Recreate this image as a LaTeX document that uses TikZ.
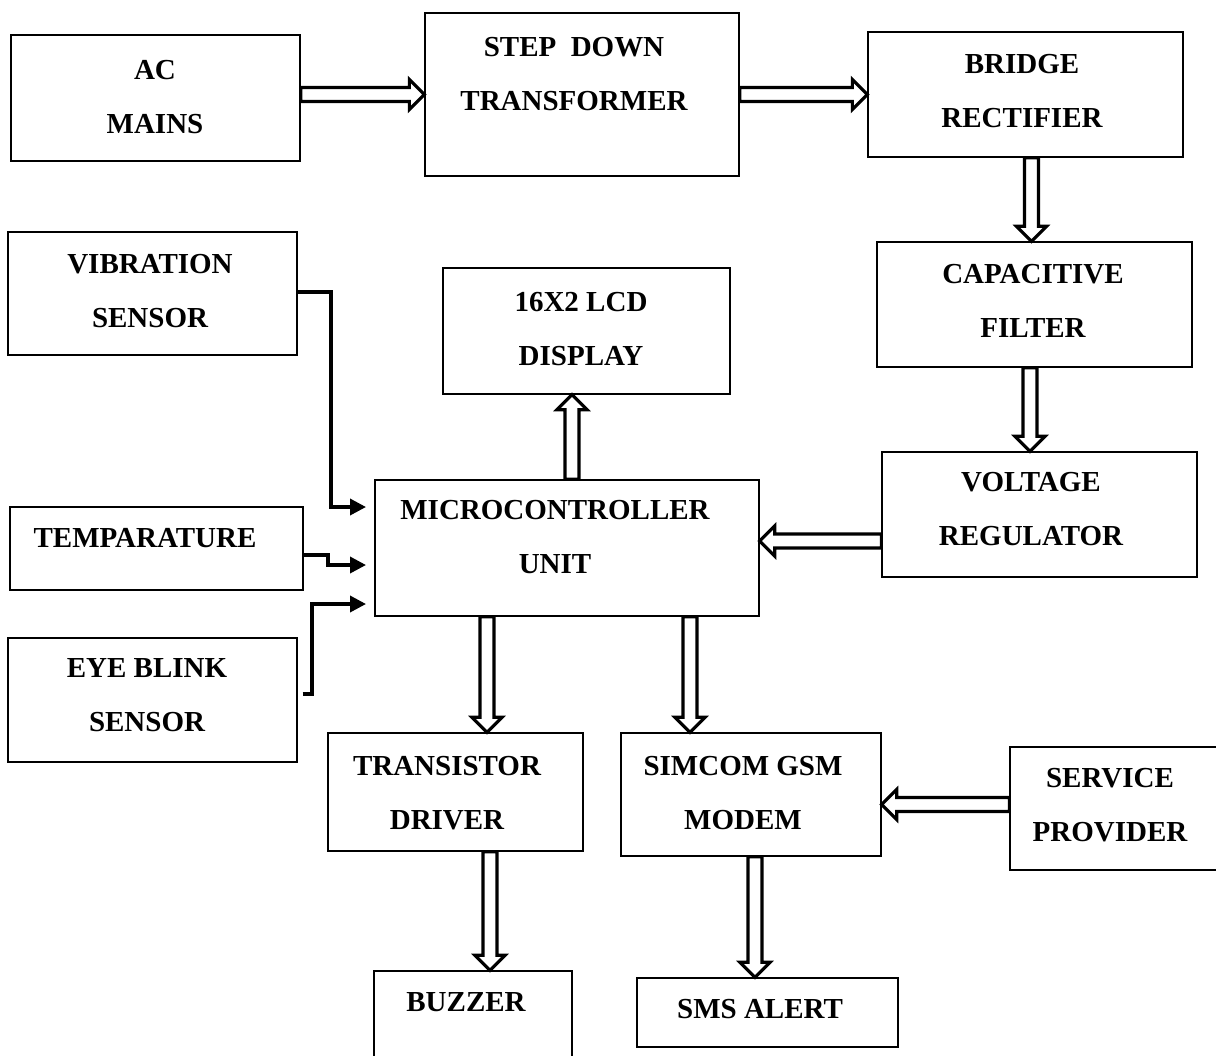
\documentclass[tikz,border=0pt]{standalone}
\usepackage{fontspec}
\setmainfont{Liberation Serif}
\usetikzlibrary{calc,arrows.meta}

\begin{document}
\begin{tikzpicture}[x=0.02cm, y=-0.02cm,
    box/.style={draw, line width=0.8pt, inner sep=0pt},
    lbl/.style={font=\bfseries\fontsize{16.5}{30.5}\selectfont, align=center, inner sep=0pt},
    wire/.style={line width=2pt, -{Triangle[length=0.32cm, width=0.32cm]}},
    hollow/.style={draw, fill=white, line width=1.8pt, line join=miter, to path={
      let \p1=(\tikztostart), \p2=(\tikztotarget), \p3=($(\p2)!0.3cm!(\p1)$) in
      ($(\p1)!0.14cm!90:(\p2)$) -- ($(\p3)!0.14cm!90:(\p2)$) -- ($(\p3)!0.3cm!90:(\p2)$) -- (\p2)
      -- ($(\p3)!0.3cm!-90:(\p2)$) -- ($(\p3)!0.14cm!-90:(\p2)$) -- ($(\p1)!0.14cm!-90:(\p2)$) -- cycle}}]
  \clip (0,0) rectangle (1216,1055);

  % blocks
  \path node (ac)  at (155.5,98)   [box, minimum width=5.78cm, minimum height=2.52cm] {}
        node (sdt) at (582,94.5)   [box, minimum width=6.28cm, minimum height=3.26cm] {}
        node (br)  at (1025.5,94.5) [box, minimum width=6.30cm, minimum height=2.50cm] {}
        node (cf)  at (1034.5,304.5) [box, minimum width=6.30cm, minimum height=2.50cm] {}
        node (vr)  at (1039.5,514.5) [box, minimum width=6.30cm, minimum height=2.50cm] {}
        node (vib) at (152.5,293.5) [box, minimum width=5.78cm, minimum height=2.46cm] {}
        node (lcd) at (586.5,331)   [box, minimum width=5.74cm, minimum height=2.52cm] {}
        node (mcu) at (567,548)     [box, minimum width=7.68cm, minimum height=2.72cm] {}
        node (tmp) at (156.5,548.5) [box, minimum width=5.86cm, minimum height=1.66cm] {}
        node (eye) at (152.5,700)   [box, minimum width=5.78cm, minimum height=2.48cm] {}
        node (tr)  at (455.5,792)   [box, minimum width=5.10cm, minimum height=2.36cm] {}
        node (gsm) at (751,794.5)   [box, minimum width=5.20cm, minimum height=2.46cm] {}
        node (sp)  at (1120,808.5)  [box, minimum width=4.40cm, minimum height=2.46cm] {}
        node (bz)  at (473,1020.5)  [box, minimum width=3.96cm, minimum height=1.98cm] {}
        node (sms) at (767.5,1012.5) [box, minimum width=5.22cm, minimum height=1.38cm] {};

  % texts
  \path node (ac-l)  at (155,97)    [lbl] {AC\\MAINS}
        node (sdt-l) at (574,74)    [lbl] {STEP~~DOWN\\TRANSFORMER}
        node (br-l)  at (1022,91)   [lbl] {BRIDGE\\RECTIFIER}
        node (cf-l)  at (1033,301)  [lbl] {CAPACITIVE\\FILTER}
        node (vr-l)  at (1031,509)  [lbl] {VOLTAGE\\REGULATOR}
        node (vib-l) at (150,291)   [lbl] {VIBRATION\\SENSOR}
        node (lcd-l) at (581,329)   [lbl] {16X2 LCD\\DISPLAY}
        node (mcu-l) at (555,537)   [lbl] {MICROCONTROLLER\\UNIT}
        node (tmp-l) at (145,538)   [lbl] {TEMPARATURE}
        node (eye-l) at (147,695)   [lbl] {EYE BLINK\\SENSOR}
        node (tr-l)  at (447,793)   [lbl] {TRANSISTOR\\DRIVER}
        node (gsm-l) at (743,793)   [lbl] {SIMCOM GSM\\MODEM}
        node (sp-l)  at (1110,805)  [lbl] {SERVICE\\PROVIDER}
        node (bz-l)  at (466,1002)  [lbl] {BUZZER}
        node (sms-l) at (760,1009)  [lbl] {SMS ALERT};

  % sensor inputs
  \coordinate (in1) at (366,507);
  \coordinate (in2) at (366,565);
  \coordinate (in3) at (366,604);
  \draw[wire] ([yshift=0.03cm]vib.east) -| ([xshift=-0.7cm]in1) -- (in1);
  \draw[wire] ([yshift=-0.13cm]tmp.east) -| ([xshift=-0.76cm]in2) -- (in2);
  \draw[wire] ([xshift=0.1cm, yshift=0.12cm]eye.east) -| ([xshift=-1.08cm]in3) -- (in3);

  % power and data flow
  \draw[hollow] (sdt.west -| ac.east) to (sdt.west);
  \draw[hollow] (sdt.east |- br.west) to (br.west);
  \draw[hollow] ([xshift=-0.06cm]cf.north |- br.south) to ([xshift=-0.06cm]cf.north);
  \draw[hollow] ([xshift=-0.09cm]cf.south) to ([xshift=-0.09cm]cf.south |- vr.north);
  \draw[hollow] ([yshift=0.14cm]mcu.east -| vr.west) to ([yshift=0.14cm]mcu.east);
  \draw[hollow] ([xshift=0.1cm]mcu.north) to ([xshift=0.1cm]mcu.north |- lcd.south);
  \draw[hollow] ([xshift=-1.6cm]mcu.south) to ([xshift=-1.6cm]mcu.south |- tr.north);
  \draw[hollow] ([xshift=2.46cm]mcu.south) to ([xshift=2.46cm]mcu.south |- gsm.north);
  \draw[hollow] ([yshift=0.08cm]sp.west) to ([yshift=0.08cm]sp.west -| gsm.east);
  \draw[hollow] ([xshift=0.69cm]tr.south) to ([xshift=0.69cm]tr.south |- bz.north);
  \draw[hollow] ([xshift=0.08cm]gsm.south) to ([xshift=0.08cm]gsm.south |- sms.north);
\end{tikzpicture}
\end{document}
